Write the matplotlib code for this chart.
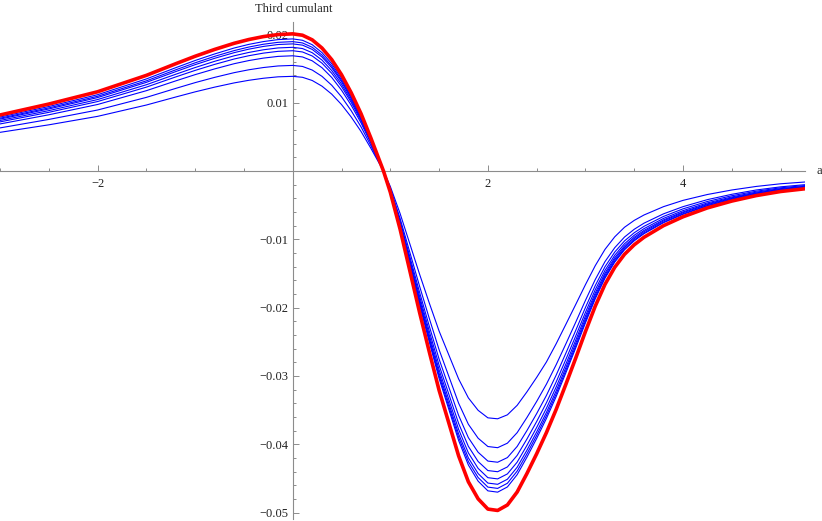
import matplotlib
matplotlib.use("Agg")
import matplotlib.pyplot as plt
import numpy as np

# ---------------------------------------------------------------------------
# Data
# ---------------------------------------------------------------------------
a_vals = [-3.0, -2.5, -2.0, -1.5, -1.2, -1.0, -0.8, -0.6, -0.45, -0.3, -0.15,
          0.0, 0.1, 0.2, 0.3, 0.4, 0.5, 0.6, 0.7, 0.8,
          0.93,
          1.0, 1.1, 1.2, 1.3, 1.4, 1.5, 1.6, 1.7, 1.8, 1.9, 2.0, 2.1, 2.2, 2.3,
          2.4, 2.5, 2.6,
          2.7, 2.8, 2.9, 3.0, 3.1, 3.2, 3.3, 3.4, 3.5, 3.6, 3.8, 4.0, 4.25, 4.5,
          4.75, 5.0, 5.25]

red_curve = [0.0082, 0.0098, 0.0116, 0.0140, 0.0157, 0.0168, 0.0178, 0.0187,
             0.01925, 0.01968, 0.01998, 0.02008, 0.01988, 0.0192, 0.0180,
             0.0163, 0.0141, 0.01144, 0.00839, 0.00486,
             0.0,
             -0.0031, -0.0085, -0.0146, -0.0207, -0.0265, -0.0321, -0.0369,
             -0.0417, -0.0455, -0.0480, -0.0495, -0.0497, -0.0489, -0.0470,
             -0.0443, -0.0414, -0.0383,
             -0.0349, -0.0312, -0.0274, -0.0235, -0.0198, -0.0166, -0.0141,
             -0.0122, -0.0108, -0.0097, -0.0080, -0.0067, -0.0054, -0.0044,
             -0.0036, -0.0030, -0.0026]

blue_1 = [0.00566, 0.00676, 0.00800, 0.00966, 0.01083, 0.01159, 0.01228, 0.01290,
          0.01328, 0.01358, 0.01379, 0.01386, 0.01372, 0.01325, 0.01242,
          0.01125, 0.00973, 0.00789, 0.00579, 0.00335,
          0.0,
          -0.00226, -0.00621, -0.01066, -0.01511, -0.01935, -0.02343, -0.02694,
          -0.03044, -0.03322, -0.03504, -0.03614, -0.03628, -0.03570, -0.03431,
          -0.03234, -0.03022, -0.02796,
          -0.02529, -0.02243, -0.01955, -0.01664, -0.01387, -0.01148, -0.00964,
          -0.00824, -0.00723, -0.00644, -0.00522, -0.00430, -0.00344, -0.00278,
          -0.00226, -0.00187, -0.00161]

blue_2 = [0.00631, 0.00755, 0.00893, 0.01078, 0.01209, 0.01294, 0.01371, 0.01440,
          0.01482, 0.01515, 0.01538, 0.01546, 0.01531, 0.01478, 0.01386,
          0.01255, 0.01086, 0.00881, 0.00646, 0.00374,
          0.0,
          -0.00253, -0.00693, -0.01190, -0.01687, -0.02160, -0.02616, -0.03007,
          -0.03399, -0.03708, -0.03912, -0.04034, -0.04051, -0.03985, -0.03831,
          -0.03610, -0.03374, -0.03121,
          -0.02836, -0.02529, -0.02215, -0.01894, -0.01590, -0.01327, -0.01123,
          -0.00967, -0.00853, -0.00764, -0.00627, -0.00522, -0.00419, -0.00341,
          -0.00278, -0.00232, -0.00200]

blue_3 = [0.00689, 0.00823, 0.00974, 0.01176, 0.01319, 0.01411, 0.01495, 0.01571,
          0.01617, 0.01653, 0.01678, 0.01687, 0.01670, 0.01613, 0.01512,
          0.01369, 0.01184, 0.00961, 0.00705, 0.00408,
          0.0,
          -0.00266, -0.00729, -0.01253, -0.01776, -0.02274, -0.02754, -0.03166,
          -0.03578, -0.03904, -0.04118, -0.04247, -0.04264, -0.04196, -0.04033,
          -0.03801, -0.03552, -0.03286,
          -0.02988, -0.02665, -0.02335, -0.01998, -0.01679, -0.01402, -0.01187,
          -0.01024, -0.00904, -0.00810, -0.00665, -0.00554, -0.00446, -0.00362,
          -0.00296, -0.00246, -0.00213]

blue_4 = [0.00719, 0.00859, 0.01017, 0.01228, 0.01377, 0.01473, 0.01561, 0.01640,
          0.01688, 0.01726, 0.01752, 0.01761, 0.01743, 0.01684, 0.01579,
          0.01430, 0.01237, 0.01003, 0.00736, 0.00426,
          0.0,
          -0.00275, -0.00753, -0.01294, -0.01834, -0.02348, -0.02844, -0.03269,
          -0.03695, -0.04031, -0.04253, -0.04386, -0.04403, -0.04333, -0.04164,
          -0.03925, -0.03668, -0.03393,
          -0.03088, -0.02756, -0.02417, -0.02070, -0.01740, -0.01456, -0.01234,
          -0.01065, -0.00941, -0.00844, -0.00694, -0.00580, -0.00467, -0.00380,
          -0.00310, -0.00258, -0.00224]

blue_5 = [0.00740, 0.00884, 0.01046, 0.01263, 0.01416, 0.01515, 0.01606, 0.01687,
          0.01736, 0.01775, 0.01802, 0.01811, 0.01793, 0.01732, 0.01624,
          0.01470, 0.01272, 0.01032, 0.00757, 0.00438,
          0.0,
          -0.00281, -0.00771, -0.01324, -0.01877, -0.02404, -0.02911, -0.03347,
          -0.03782, -0.04127, -0.04354, -0.04490, -0.04508, -0.04435, -0.04263,
          -0.04018, -0.03755, -0.03474,
          -0.03162, -0.02825, -0.02478, -0.02123, -0.01787, -0.01496, -0.01269,
          -0.01096, -0.00969, -0.00870, -0.00716, -0.00599, -0.00482, -0.00392,
          -0.00321, -0.00267, -0.00231]

blue_6 = [0.00760, 0.00908, 0.01075, 0.01298, 0.01455, 0.01557, 0.01650, 0.01733,
          0.01784, 0.01824, 0.01852, 0.01861, 0.01843, 0.01780, 0.01669,
          0.01511, 0.01307, 0.01060, 0.00778, 0.00451,
          0.0,
          -0.00286, -0.00785, -0.01348, -0.01911, -0.02446, -0.02963, -0.03406,
          -0.03849, -0.04200, -0.04430, -0.04569, -0.04587, -0.04513, -0.04338,
          -0.04089, -0.03821, -0.03535,
          -0.03219, -0.02876, -0.02524, -0.02163, -0.01821, -0.01525, -0.01294,
          -0.01118, -0.00989, -0.00888, -0.00731, -0.00611, -0.00492, -0.00401,
          -0.00328, -0.00273, -0.00237]

blue_7 = [0.00773, 0.00924, 0.01094, 0.01320, 0.01481, 0.01584, 0.01679, 0.01763,
          0.01815, 0.01856, 0.01884, 0.01894, 0.01875, 0.01811, 0.01697,
          0.01537, 0.01330, 0.01079, 0.00791, 0.00458,
          0.0,
          -0.00290, -0.00795, -0.01365, -0.01935, -0.02478, -0.03001, -0.03450,
          -0.03899, -0.04254, -0.04488, -0.04628, -0.04647, -0.04572, -0.04394,
          -0.04142, -0.03871, -0.03581,
          -0.03263, -0.02917, -0.02562, -0.02197, -0.01851, -0.01552, -0.01318,
          -0.01141, -0.01010, -0.00907, -0.00748, -0.00626, -0.00505, -0.00411,
          -0.00337, -0.00280, -0.00243]

blue_8 = [0.00790, 0.00944, 0.01117, 0.01348, 0.01512, 0.01618, 0.01714, 0.01801,
          0.01854, 0.01895, 0.01924, 0.01934, 0.01914, 0.01849, 0.01733,
          0.01570, 0.01358, 0.01102, 0.00808, 0.00468,
          0.0,
          -0.00293, -0.00804, -0.01381, -0.01958, -0.02507, -0.03037, -0.03491,
          -0.03945, -0.04304, -0.04541, -0.04683, -0.04702, -0.04626, -0.04446,
          -0.04191, -0.03916, -0.03623,
          -0.03302, -0.02952, -0.02592, -0.02223, -0.01873, -0.01570, -0.01334,
          -0.01154, -0.01022, -0.00918, -0.00757, -0.00634, -0.00511, -0.00416,
          -0.00341, -0.00284, -0.00246]

blue_curves = [blue_1, blue_2, blue_3, blue_4, blue_5, blue_6, blue_7, blue_8]

x_major = [-2, 2, 4]
x_labels = ["\u22122", "2", "4"]
y_major = [-0.05, -0.04, -0.03, -0.02, -0.01, 0.01, 0.02]
y_labels = ["\u22120.05", "\u22120.04", "\u22120.03", "\u22120.02", "\u22120.01",
            "0.01", "0.02"]

# ---------------------------------------------------------------------------
# Plot
# ---------------------------------------------------------------------------
W, H = 822, 521
plt.rcParams["font.family"] = ["Liberation Serif", "DejaVu Serif"]
fig = plt.figure(figsize=(W / 100, H / 100), dpi=100)
ax = fig.add_axes([0, 0, 805 / W, 1])
ax.set_xlim(-3.0, 5.25)
ax.set_ylim(-0.051244, 0.025037)

for curve in blue_curves:
    ax.plot(a_vals, curve, color="#0000ff", lw=0.8, solid_joinstyle="round")
ax.plot(a_vals, red_curve, color="#ff0000", lw=2.6, solid_capstyle="round",
        solid_joinstyle="round")

axis_grey = "#8c8c8c"
for side in ["top", "right"]:
    ax.spines[side].set_visible(False)
ax.spines["left"].set_position(("data", 0))
ax.spines["bottom"].set_position(("data", 0))
ax.spines["left"].set_bounds(-0.0510, 0.0218)
for side in ["left", "bottom"]:
    ax.spines[side].set_color(axis_grey)
    ax.spines[side].set_linewidth(0.8)
    ax.spines[side].set_zorder(0.5)

ax.set_xticks(x_major)
ax.set_xticklabels(x_labels)
ax.set_xticks(np.arange(-3.0, 5.26, 0.5), minor=True)
ax.set_yticks(y_major)
ax.set_yticklabels(y_labels)
ax.set_yticks(np.arange(-0.05, 0.0201, 0.002), minor=True)

ax.tick_params(which="both", direction="in", color=axis_grey, width=0.7,
               labelsize=9, labelcolor="#222222")
ax.tick_params(which="major", length=4.0)
ax.tick_params(which="minor", length=2.2)
ax.tick_params(axis="x", which="major", pad=5)
ax.tick_params(axis="y", which="major", pad=3)
for lab in ax.get_xticklabels() + ax.get_yticklabels():
    lab.set_zorder(5)

fig.text(293.7 / W, 1 - 9 / H, "Third cumulant", ha="center", va="center",
         fontsize=9, color="#222222")
fig.text(819 / W, 1 - 171 / H, "a", ha="center", va="center",
         fontsize=9, color="#222222")

fig.savefig("out.png", dpi=100)
